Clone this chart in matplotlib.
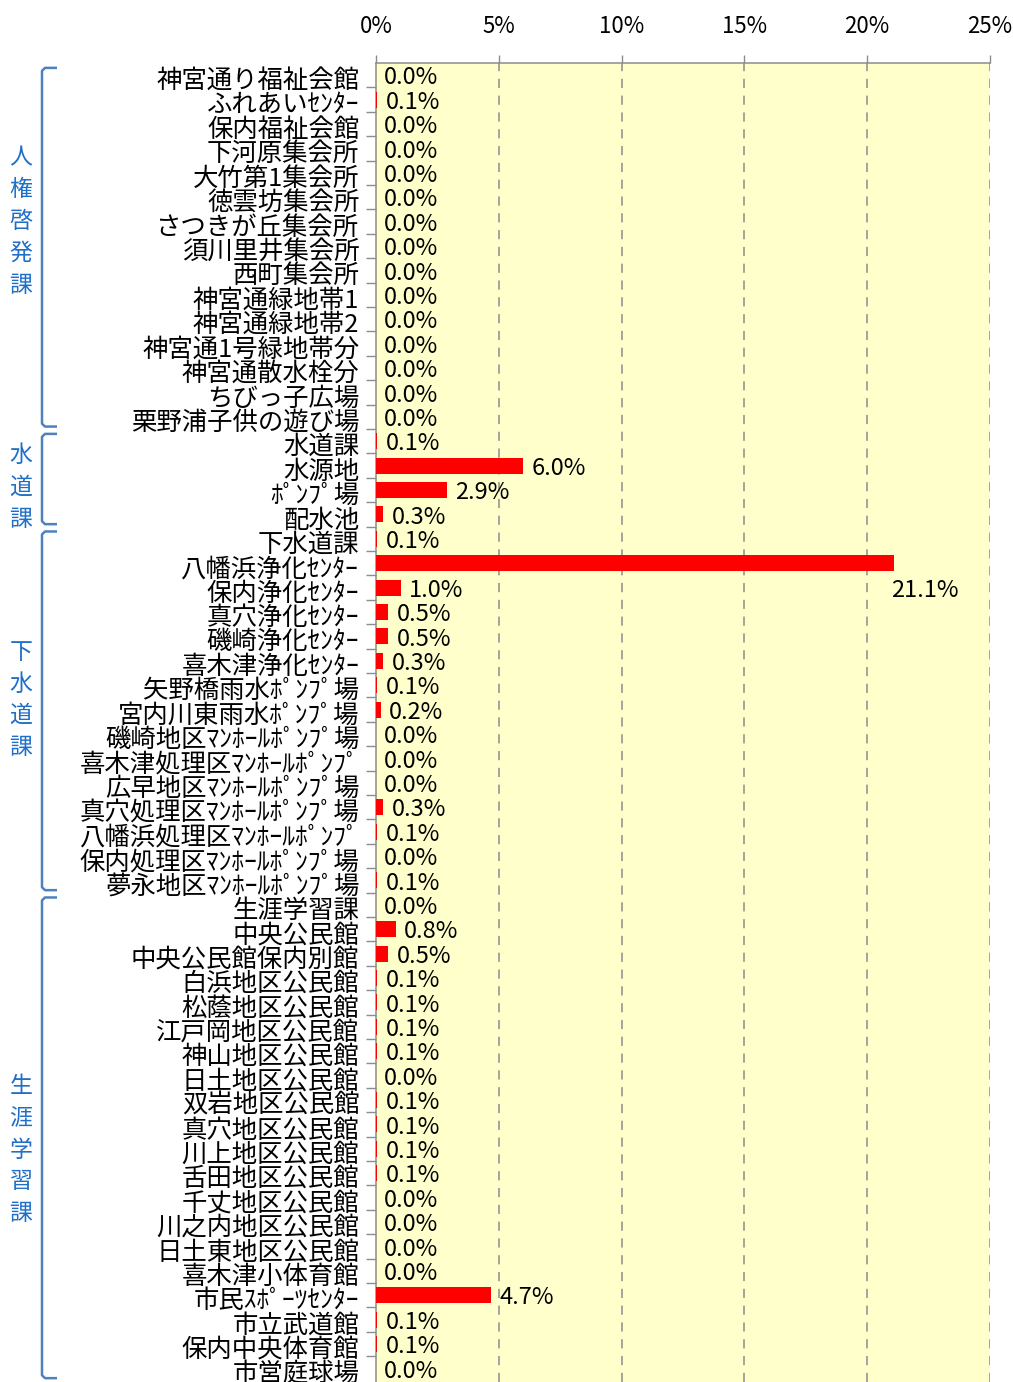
import numpy as np
import matplotlib
matplotlib.use('Agg')
import matplotlib.pyplot as plt
import matplotlib.transforms as mtransforms
from matplotlib import font_manager

# categories (top to bottom)
labels = [
    '神宮通り福祉会館', 'ふれあいｾﾝﾀｰ', '保内福祉会館', '下河原集会所', '大竹第1集会所',
    '徳雲坊集会所', 'さつきが丘集会所', '須川里井集会所', '西町集会所', '神宮通緑地帯1',
    '神宮通緑地帯2', '神宮通1号緑地帯分', '神宮通散水栓分', 'ちびっ子広場', '栗野浦子供の遊び場',
    '水道課', '水源地', 'ﾎﾟﾝﾌﾟ場', '配水池',
    '下水道課', '八幡浜浄化ｾﾝﾀｰ', '保内浄化ｾﾝﾀｰ', '真穴浄化ｾﾝﾀｰ', '磯崎浄化ｾﾝﾀｰ',
    '喜木津浄化ｾﾝﾀｰ', '矢野橋雨水ﾎﾟﾝﾌﾟ場', '宮内川東雨水ﾎﾟﾝﾌﾟ場', '磯崎地区ﾏﾝﾎｰﾙﾎﾟﾝﾌﾟ場',
    '喜木津処理区ﾏﾝﾎｰﾙﾎﾟﾝﾌﾟ', '広早地区ﾏﾝﾎｰﾙﾎﾟﾝﾌﾟ場', '真穴処理区ﾏﾝﾎｰﾙﾎﾟﾝﾌﾟ場',
    '八幡浜処理区ﾏﾝﾎｰﾙﾎﾟﾝﾌﾟ', '保内処理区ﾏﾝﾎｰﾙﾎﾟﾝﾌﾟ場', '夢永地区ﾏﾝﾎｰﾙﾎﾟﾝﾌﾟ場',
    '生涯学習課', '中央公民館', '中央公民館保内別館', '白浜地区公民館', '松蔭地区公民館',
    '江戸岡地区公民館', '神山地区公民館', '日土地区公民館', '双岩地区公民館', '真穴地区公民館',
    '川上地区公民館', '舌田地区公民館', '千丈地区公民館', '川之内地区公民館', '日土東地区公民館',
    '喜木津小体育館', '市民ｽﾎﾟｰﾂｾﾝﾀｰ', '市立武道館', '保内中央体育館', '市営庭球場',
]
# shares in %; the "0.1%" rows show no visible bar, so they are taken as ~0.05
values = [
    0.0, 0.05, 0.0, 0.0, 0.0, 0.0, 0.0, 0.0, 0.0, 0.0, 0.0, 0.0, 0.0, 0.0, 0.0,
    0.05, 6.0, 2.9, 0.3,
    0.05, 21.1, 1.0, 0.5, 0.5, 0.3, 0.05, 0.2, 0.0, 0.0, 0.0, 0.3, 0.05, 0.0, 0.05,
    0.0, 0.8, 0.5, 0.05, 0.05, 0.05, 0.05, 0.0, 0.05, 0.05, 0.05, 0.05, 0.0, 0.0, 0.0,
    0.0, 4.7, 0.05, 0.05, 0.0,
]
group_names = ['人権啓発課', '水道課', '下水道課', '生涯学習課']
group_sizes = [15, 4, 15, 20]
group_label_y = [6.0, 16.9, 25.6, 44.05]   # centre of the stacked group label (rows)
xticks = [0, 5, 10, 15, 20, 25]

names = {f.name for f in font_manager.fontManager.ttflist}
JP = 'Noto Sans CJK JP'
NUM = 'Liberation Sans Narrow' if 'Liberation Sans Narrow' in names else JP
plt.rcParams['font.family'] = [JP, 'DejaVu Sans']

W, H = 1013, 1382
fig = plt.figure(figsize=(W / 100, H / 100), dpi=100)
row_px = 24.4
ax_top = 63
ax_h = H - ax_top
ax = fig.add_axes([376 / W, 0, 614 / W, ax_h / H])
n = len(labels)
y = np.arange(n)

ax.set_facecolor('#FFFFCC')
ax.barh(y, values, height=0.66, color='#FF0000', zorder=3, linewidth=0)
ax.set_xlim(0, 25)
ax.set_ylim(-0.5 + ax_h / row_px, -0.5)

# gridlines
for t in xticks[1:]:
    ax.axvline(t, color='#8C8C8C', lw=1.1, ls=(0, (6, 5)), zorder=1)

ax.xaxis.tick_top()
ax.set_xticks(xticks)
ax.set_xticklabels([f'{t}%' for t in xticks], fontsize=16, family=[NUM, JP])
ax.tick_params(axis='x', length=6, width=1, color='#8C8C8C', pad=12)

ax.set_yticks(y)
ax.set_yticklabels(labels, fontsize=18.3, color='black')
ax.set_yticks(y[:-1] + 0.5, minor=True)
ax.tick_params(axis='y', which='major', length=0, pad=12)
ax.tick_params(axis='y', which='minor', length=7, width=1, color='#8C8C8C')
shift = mtransforms.ScaledTranslation(0, -3 / 100, fig.dpi_scale_trans)
for lab in ax.get_yticklabels():
    lab.set_transform(lab.get_transform() + shift)

for s in ['right', 'bottom']:
    ax.spines[s].set_visible(False)
for s in ['top', 'left']:
    ax.spines[s].set_color('#8C8C8C')
    ax.spines[s].set_linewidth(1.1)

# value labels
for yi, v in zip(y, values):
    if v > 20:
        ax.annotate(f'{v:.1f}%', (v, yi + 1), xytext=(-2, -2), textcoords='offset points',
                    ha='left', va='center', fontsize=17, family=[NUM, JP], zorder=4)
    else:
        ax.annotate(f'{v:.1f}%', (v, yi), xytext=(6, -2), textcoords='offset points',
                    ha='left', va='center', fontsize=17, family=[NUM, JP], zorder=4)

# group brackets and labels
tr = ax.get_yaxis_transform()
xv = (42 - 376) / 614
xh = (57 - 376) / 614
xc = 3 / 614
xt = (21 - 376) / 614
start = 0
for name, size, ly in zip(group_names, group_sizes, group_label_y):
    top = start - 0.5 + 0.2
    bot = start + size - 0.5 - 0.1
    xs = [xh, xv + xc, xv, xv, xv + xc, xh]
    ys = [top, top, top + 0.12, bot - 0.12, bot, bot]
    ax.plot(xs, ys, color='#4F81BD', lw=1.8, transform=tr, clip_on=False,
            solid_capstyle='butt')
    k = len(name)
    for j, ch in enumerate(name):
        ax.text(xt, ly + (j - (k - 1) / 2) * 1.3, ch, transform=tr, ha='center',
                va='center', fontsize=16.5, color='#1F6FC8')
    start += size

fig.savefig('out.png', dpi=100)
